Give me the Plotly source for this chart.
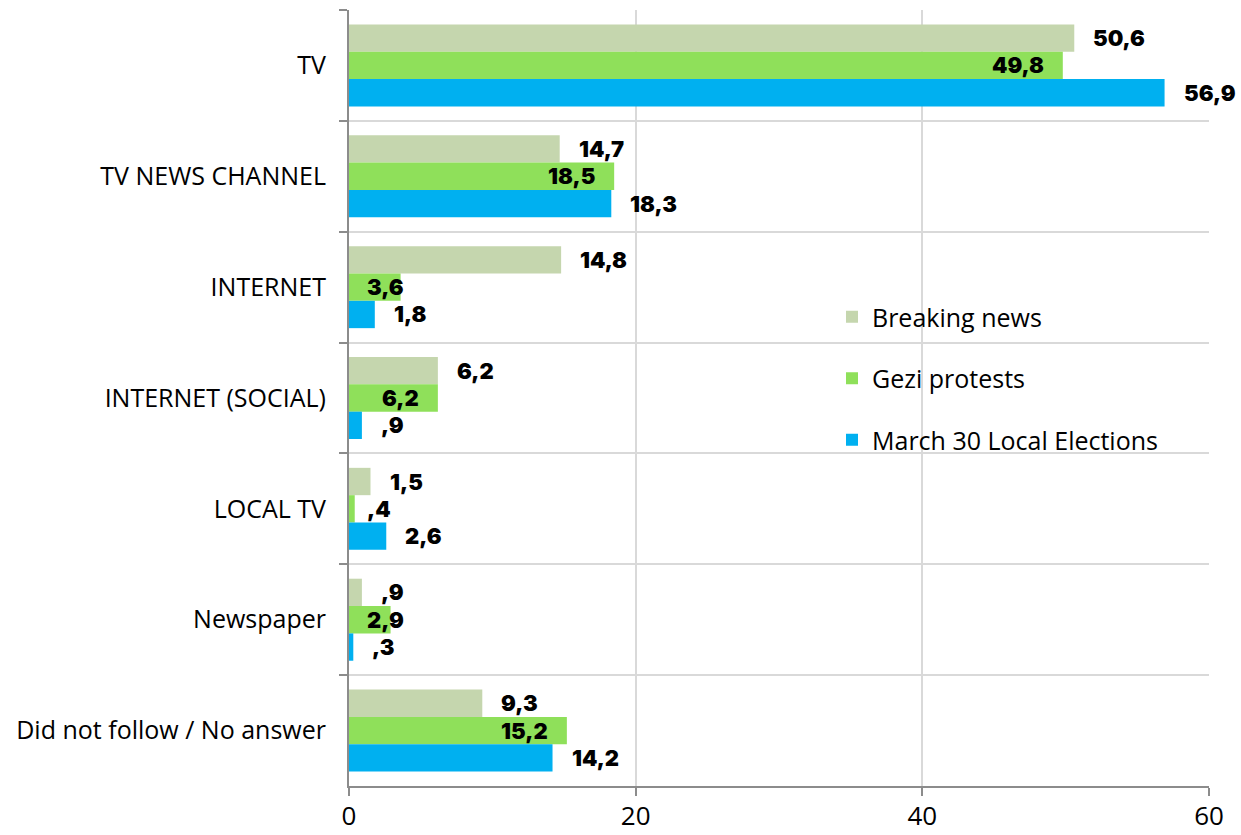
import plotly.graph_objects as go

categories = ["TV", "TV NEWS CHANNEL", "INTERNET", "INTERNET (SOCIAL)",
              "LOCAL TV", "Newspaper", "Did not follow / No answer"]
breaking_news = [50.6, 14.7, 14.8, 6.2, 1.5, 0.9, 9.3]
gezi_protests = [49.8, 18.5, 3.6, 6.2, 0.4, 2.9, 15.2]
march30_elections = [56.9, 18.3, 1.8, 0.9, 2.6, 0.3, 14.2]
x_ticks = [0, 20, 40, 60]

series = [
    ("Breaking news", breaking_news, "#c5d6ae"),
    ("Gezi protests", gezi_protests, "#8fe05a"),
    ("March 30 Local Elections", march30_elections, "#00b0f0"),
]

W, H = 1241, 835
M_L, M_R, M_T, M_B = 349, 32, 10, 49
BARGAP = 0.26
band_px = (H - M_T - M_B) / len(categories)
bar_px = band_px * (1 - BARGAP) / len(series)

TEXT_FONT = "Open Sans, Liberation Sans, Arial, sans-serif"
LABEL_FONT = dict(family="Inter, Roboto, Arial Black, sans-serif", size=22,
                  color="black", weight=900)


def fmt(v):
    s = f"{v:.1f}".replace(".", ",")
    return s[1:] if s.startswith("0") else s


fig = go.Figure()
annotations = []
for i, (name, vals, color) in enumerate(series):
    fig.add_trace(go.Bar(
        y=categories, x=vals, name=name, orientation="h",
        marker=dict(color=color, line=dict(width=0)),
        legendgroup=name, hoverinfo="skip",
    ))
    shift = (1 - i) * bar_px
    for cat, v in zip(categories, vals):
        if i == 1:
            # middle series: labels sit inside the bar end, kept clear of the axis
            if v >= 5:
                ann = dict(x=v, xanchor="right", xshift=-17)
            else:
                ann = dict(x=0, xanchor="left", xshift=16)
        else:
            ann = dict(x=v, xanchor="left", xshift=17)
        ann.update(y=cat, xref="x", yref="y", yshift=shift, yanchor="middle",
                   text=fmt(v), showarrow=False, font=LABEL_FONT)
        annotations.append(ann)

# white panel behind the legend
plot_w = W - M_L - M_R
plot_h = H - M_T - M_B
shapes = [dict(type="rect", xref="paper", yref="paper", layer="between",
               x0=(815 - M_L) / plot_w, x1=(1183 - M_L) / plot_w,
               y0=1 - (455 - M_T) / plot_h, y1=1 - (300 - M_T) / plot_h,
               fillcolor="white", line=dict(width=0))]

fig.update_layout(
    width=W, height=H,
    margin=dict(l=M_L, r=M_R, t=M_T, b=M_B, pad=0, autoexpand=False),
    paper_bgcolor="white", plot_bgcolor="white",
    barmode="group", bargap=BARGAP, bargroupgap=0,
    font=dict(family=TEXT_FONT, color="black"),
    annotations=annotations,
    shapes=shapes,
    showlegend=True,
    legend=dict(
        x=(832 - M_L) / plot_w, y=1 - (294 - M_T) / plot_h,
        xanchor="left", yanchor="top",
        bgcolor="rgba(0,0,0,0)", borderwidth=0,
        font=dict(family=TEXT_FONT, size=25, color="black"),
        tracegroupgap=26, traceorder="grouped",
    ),
    xaxis=dict(
        range=[0, 60], tickvals=x_ticks, ticktext=[str(t) for t in x_ticks],
        showgrid=True, gridcolor="#d9d9d9", gridwidth=2,
        zeroline=False, showline=True, linecolor="#8c8c8c", linewidth=2,
        ticks="outside", ticklen=8, tickwidth=2, tickcolor="#8c8c8c",
        tickfont=dict(family=TEXT_FONT, size=26, color="black"),
        ticklabelstandoff=-2,
        automargin=False, fixedrange=True,
    ),
    yaxis=dict(
        type="category", categoryorder="array", categoryarray=categories,
        autorange="reversed", tickson="boundaries",
        showgrid=True, gridcolor="#d9d9d9", gridwidth=2,
        showline=True, linecolor="#8c8c8c", linewidth=2,
        ticks="outside", ticklen=8, tickwidth=2, tickcolor="#8c8c8c",
        tickfont=dict(family=TEXT_FONT, size=25, color="black"),
        ticklabelstandoff=16,
        automargin=False, fixedrange=True,
    ),
)

fig.write_html("out.html")
